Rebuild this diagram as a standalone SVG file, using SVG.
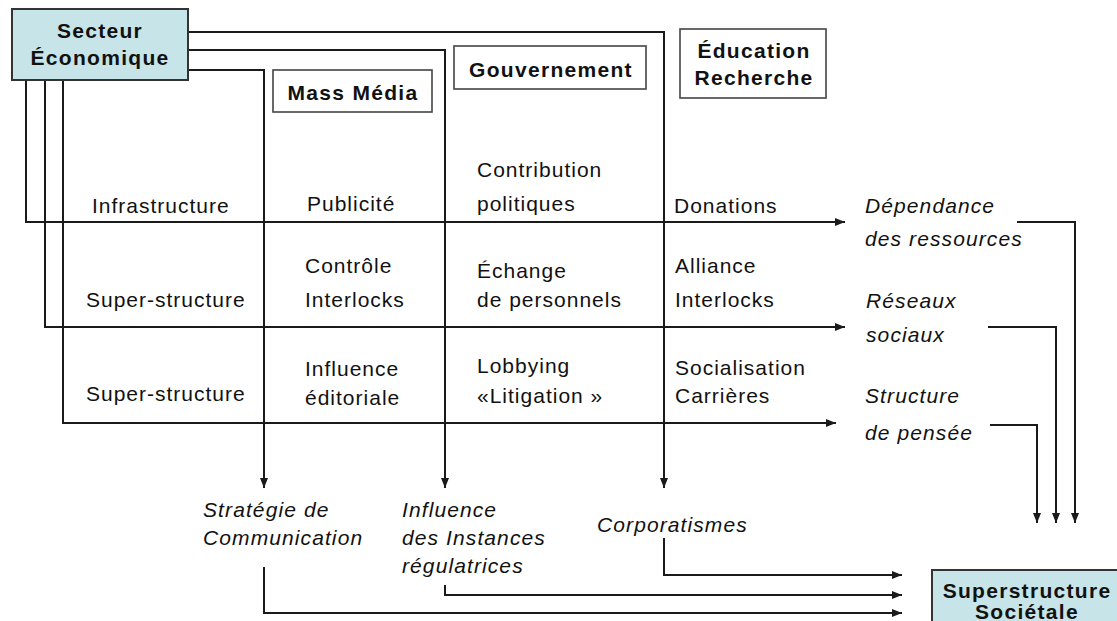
<svg xmlns="http://www.w3.org/2000/svg" width="1117" height="621" viewBox="0 0 1117 621">
<style>
.r{font-family:"Liberation Sans",Arial,sans-serif;font-size:21px;letter-spacing:1px;fill:#111}
.i{font-family:"Liberation Sans",Arial,sans-serif;font-size:21px;font-style:italic;letter-spacing:1.1px;fill:#111}
.b{font-family:"Liberation Sans",Arial,sans-serif;font-size:21px;font-weight:bold;letter-spacing:1.3px;fill:#111;text-anchor:middle}
.hb{fill:#c7e4e8;stroke:#333;stroke-width:2}
.lb{fill:#fff;stroke:#444;stroke-width:1.6}
.c{fill:none;stroke:#1a1a1a;stroke-width:2}
</style>
<defs>
<marker id="ah" markerUnits="userSpaceOnUse" markerWidth="10" markerHeight="8" refX="10" refY="4" orient="auto">
<path d="M0,0 L10,4 L0,8 z" fill="#1a1a1a"/>
</marker>
</defs>
<rect width="1117" height="621" fill="#fff"/>

<g id="connectors">
<path class="c" d="M188,32 H664 V488" marker-end="url(#ah)"/>
<path class="c" d="M188,50 H445 V488" marker-end="url(#ah)"/>
<path class="c" d="M188,70 H264 V488" marker-end="url(#ah)"/>
<path class="c" d="M26,80 V222 H845" marker-end="url(#ah)"/>
<path class="c" d="M45,80 V327 H845" marker-end="url(#ah)"/>
<path class="c" d="M63,80 V423 H836" marker-end="url(#ah)"/>
<path class="c" d="M1017,222 H1075 V523" marker-end="url(#ah)"/>
<path class="c" d="M988,327 H1056 V523" marker-end="url(#ah)"/>
<path class="c" d="M990,425 H1037 V523" marker-end="url(#ah)"/>
<path class="c" d="M664,538 V575 H902" marker-end="url(#ah)"/>
<path class="c" d="M445,585 V595 H902" marker-end="url(#ah)"/>
<path class="c" d="M264,567 V613 H902" marker-end="url(#ah)"/>
</g>

<g id="secteur">
<rect class="hb" x="12" y="9" width="176" height="71"/>
<text class="b" x="100" y="38">Secteur</text>
<text class="b" x="100" y="65">Économique</text>
</g>
<g id="massmedia">
<rect class="lb" x="273" y="70" width="159" height="42"/>
<text class="b" x="353" y="100">Mass Média</text>
</g>
<g id="gouvernement">
<rect class="lb" x="454" y="46" width="192" height="43"/>
<text class="b" x="551" y="77">Gouvernement</text>
</g>
<g id="education">
<rect class="lb" x="680" y="29" width="146" height="69"/>
<text class="b" x="754" y="58">Éducation</text>
<text class="b" x="754" y="85">Recherche</text>
</g>
<g id="superstructure">
<rect class="hb" x="932" y="570" width="190" height="60"/>
<text class="b" x="1027" y="598">Superstructure</text>
<text class="b" x="1027" y="619">Sociétale</text>
</g>

<g id="row-infrastructure">
<text class="r" x="92" y="213">Infrastructure</text>
<text class="r" x="307" y="211">Publicité</text>
<text class="r" x="477" y="177">Contribution</text>
<text class="r" x="477" y="211">politiques</text>
<text class="r" x="674" y="213">Donations</text>
</g>
<g id="row-super1">
<text class="r" x="86" y="307">Super-structure</text>
<text class="r" x="305" y="273">Contrôle</text>
<text class="r" x="305" y="307">Interlocks</text>
<text class="r" x="477" y="278">Échange</text>
<text class="r" x="477" y="307">de personnels</text>
<text class="r" x="675" y="273">Alliance</text>
<text class="r" x="675" y="307">Interlocks</text>
</g>
<g id="row-super2">
<text class="r" x="86" y="401">Super-structure</text>
<text class="r" x="305" y="376">Influence</text>
<text class="r" x="305" y="405">éditoriale</text>
<text class="r" x="477" y="373">Lobbying</text>
<text class="r" x="477" y="403">«Litigation »</text>
<text class="r" x="675" y="375">Socialisation</text>
<text class="r" x="675" y="403">Carrières</text>
</g>
<g id="dependance">
<text class="i" x="865" y="213">Dépendance</text>
<text class="i" x="865" y="246">des ressources</text>
</g>
<g id="reseaux">
<text class="i" x="866" y="308">Réseaux</text>
<text class="i" x="866" y="342">sociaux</text>
</g>
<g id="structure">
<text class="i" x="865" y="403">Structure</text>
<text class="i" x="865" y="440">de pensée</text>
</g>
<g id="strategie">
<text class="i" x="203" y="517">Stratégie de</text>
<text class="i" x="203" y="545">Communication</text>
</g>
<g id="influence">
<text class="i" x="402" y="517">Influence</text>
<text class="i" x="402" y="545">des Instances</text>
<text class="i" x="402" y="573">régulatrices</text>
</g>
<g id="corporatismes">
<text class="i" x="597" y="532">Corporatismes</text>
</g>
</svg>
